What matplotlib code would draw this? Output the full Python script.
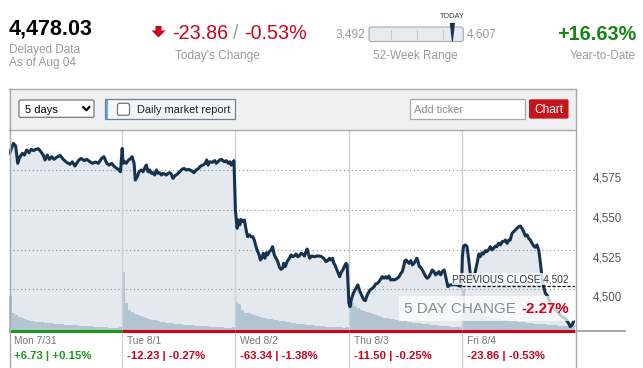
import numpy as np
import matplotlib.pyplot as plt
from matplotlib.patches import Rectangle, FancyBboxPatch, Polygon
from matplotlib.lines import Line2D
import matplotlib.transforms as mtrans

plt.rcParams['font.family'] = ['Liberation Sans', 'DejaVu Sans']

# ---------------- values ----------------
last_price = 4478.03
todays_change = -23.86
todays_pct = -0.53
ytd_pct = 16.63
week52_low = 3492
week52_high = 4607
prev_close = 4502
five_day_pct = -2.27
y_ticks = [4500, 4525, 4550, 4575]

day_names = ['Mon 7/31', 'Tue 8/1', 'Wed 8/2', 'Thu 8/3', 'Fri 8/4']
day_chg = [6.73, -12.23, -63.34, -11.50, -23.86]
day_pct = [0.15, -0.27, -1.38, -0.25, -0.53]

# minutes after the open (390 min session) and index level
mon_min = [2, 15, 23, 30, 38, 46, 53, 61, 69, 76, 84, 92, 101, 110, 118, 124, 132, 139, 147, 155, 164, 176,
           187, 199, 210, 218, 227, 239, 248, 260, 268, 279, 287, 299, 308, 319, 327, 337, 345, 354, 363, 371, 379, 384]
mon_px = [4585.7, 4592.0, 4590.3, 4579.4, 4583.6, 4585.7, 4584.6, 4587.8, 4586.1, 4588.2, 4587.4, 4588.2, 4588.6,
          4586.7, 4584.6, 4581.5, 4584.6, 4581.9, 4583.6, 4581.9, 4583.2, 4584.4, 4581.9, 4580.0, 4578.8, 4580.4,
          4577.7, 4581.1, 4582.5, 4581.1, 4581.9, 4580.4, 4579.4, 4580.2, 4579.4, 4582.5, 4583.6, 4579.4, 4578.3,
          4579.4, 4577.3, 4576.3, 4575.2, 4574.1]
tue_min = [0, 3, 9, 14, 20, 29, 34, 41, 45, 52, 58, 66, 72, 77, 83, 89, 95, 100, 106, 112, 118, 123, 129, 135, 141,
           146, 152, 158, 164, 169, 175, 181, 190, 198, 206, 213, 221, 229, 238, 247, 255, 263, 270, 278, 286, 291,
           296, 301, 309, 319, 324, 330, 336, 342, 347, 353, 359, 365, 371, 376, 381, 385]
tue_px = [4588.8, 4579.4, 4580.4, 4579.4, 4581.1, 4582.5, 4583.6, 4579.4, 4568.9, 4571.0, 4574.1, 4575.2, 4574.1,
          4576.2, 4578.3, 4574.1, 4575.2, 4573.1, 4573.5, 4572.0, 4575.2, 4573.1, 4573.5, 4572.0, 4573.1, 4572.7,
          4572.0, 4573.1, 4573.5, 4572.7, 4569.9, 4571.4, 4572.7, 4574.1, 4575.6, 4576.2, 4575.2, 4575.6, 4574.8,
          4573.5, 4575.2, 4576.2, 4577.7, 4578.3, 4579.4, 4581.5, 4578.3, 4580.4, 4580.0, 4581.1, 4579.4, 4580.4,
          4581.5, 4581.9, 4581.1, 4580.4, 4581.1, 4579.4, 4580.4, 4578.3, 4579.8, 4581.1]
wed_min = [0, 2, 6, 10, 15, 19, 25, 31, 37, 42, 48, 54, 60, 65, 71, 77, 82, 86, 91, 96, 102, 107, 111, 117, 123, 128,
           134, 140, 146, 151, 157, 163, 166, 172, 178, 186, 192, 197, 203, 209, 215, 220, 226, 232, 238, 243, 247,
           251, 256, 263, 272, 281, 289, 297, 304, 312, 318, 324, 329, 335, 339, 343, 350, 355, 359, 364, 370, 375,
           381, 385]
wed_px = [4550.0, 4545.8, 4538.5, 4543.7, 4540.6, 4544.1, 4542.7, 4543.7, 4537.4, 4533.2, 4534.3, 4533.2, 4533.2,
          4531.1, 4526.9, 4523.8, 4521.7, 4518.5, 4519.6, 4522.7, 4519.6, 4523.1, 4521.7, 4523.8, 4524.8, 4526.9,
          4521.7, 4519.6, 4517.5, 4514.3, 4512.6, 4513.3, 4516.4, 4514.3, 4517.5, 4519.6, 4521.7, 4520.6, 4521.0,
          4522.3, 4520.6, 4521.0, 4522.7, 4522.3, 4521.0, 4523.8, 4525.4, 4522.7, 4519.6, 4521.0, 4520.6, 4521.0,
          4521.0, 4520.6, 4519.6, 4517.5, 4518.1, 4519.6, 4518.5, 4519.6, 4516.4, 4515.4, 4512.2, 4510.1, 4508.0,
          4510.5, 4512.2, 4514.3, 4516.4, 4515.4]
thu_min = [1, 5, 9, 16, 22, 28, 32, 37, 42, 47, 53, 58, 62, 67, 74, 82, 88, 93, 99, 105, 110, 116, 122, 128, 133,
           139, 145, 151, 156, 162, 168, 174, 179, 185, 191, 194, 199, 202, 208, 214, 220, 225, 231, 235, 239, 244,
           248, 254, 260, 266, 271, 277, 283, 288, 294, 300, 306, 311, 317, 323, 329, 332, 338, 342, 349, 370, 385]
thu_px = [4491.2, 4489.1, 4493.3, 4497.5, 4499.6, 4501.7, 4502.8, 4499.6, 4497.5, 4495.4, 4493.3, 4492.9, 4495.4,
          4497.5, 4499.6, 4500.7, 4501.7, 4503.4, 4503.8, 4504.9, 4506.3, 4508.0, 4507.0, 4508.0, 4507.0, 4508.4,
          4505.9, 4506.3, 4505.9, 4506.3, 4507.0, 4508.0, 4509.7, 4511.2, 4515.4, 4518.1, 4518.5, 4517.5, 4516.4,
          4518.1, 4515.4, 4516.4, 4518.1, 4519.6, 4517.5, 4514.3, 4513.9, 4512.2, 4510.1, 4508.0, 4507.0, 4508.0,
          4510.1, 4512.2, 4511.2, 4509.1, 4510.1, 4511.2, 4509.1, 4511.2, 4512.2, 4510.1, 4504.9, 4501.7, 4502.8,
          4503.0, 4502.0]
fri_min = [0, 2, 6, 12, 18, 24, 29, 35, 43, 50, 55, 59, 64, 70, 75, 81, 87, 93, 98, 104, 110, 116, 121, 127, 133,
           139, 144, 150, 156, 162, 167, 173, 179, 184, 190, 196, 202, 207, 213, 219, 225, 230, 236, 242, 248, 253,
           259, 265, 271, 276, 282, 288, 293, 299, 305, 311, 317, 322, 328, 334, 339, 345, 351, 357, 362, 368, 374,
           380, 385]
fri_px = [4508.0, 4520.6, 4527.3, 4528.0, 4526.9, 4518.5, 4510.1, 4505.9, 4508.0, 4514.3, 4518.5, 4522.3, 4520.6,
          4523.1, 4522.3, 4524.4, 4523.8, 4525.2, 4526.9, 4524.8, 4525.9, 4527.3, 4526.9, 4529.0, 4528.0, 4530.1,
          4530.1, 4531.1, 4529.0, 4531.1, 4531.1, 4535.3, 4536.4, 4537.4, 4538.5, 4539.5, 4539.9, 4538.5, 4536.4,
          4533.6, 4534.3, 4532.2, 4531.1, 4529.0, 4527.3, 4526.5, 4528.0, 4524.8, 4516.4, 4508.0, 4501.7, 4497.5,
          4496.5, 4494.4, 4491.2, 4489.1, 4488.1, 4487.5, 4486.0, 4485.4, 4483.9, 4482.8, 4482.4, 4481.2, 4480.3,
          4478.6, 4476.5, 4477.6, 4479.7]

# volume per 10-minute bucket (relative units)
mon_vol = [34, 17, 15, 13, 12, 11, 10, 9, 9, 8, 8, 8, 7, 7, 7, 6, 6, 6, 6, 5, 5, 5, 5, 5, 4, 4, 4, 4, 4, 3,
           3, 3, 3, 3, 2, 2, 2, 2, 3]
tue_vol = [58, 27, 20, 18, 16, 15, 14, 13, 12, 11, 10, 10, 9, 8, 8, 7, 7, 7, 6, 6, 6, 5, 5, 5, 5, 4, 4, 4, 4, 4,
           3, 3, 3, 3, 3, 2, 2, 2, 3]
wed_vol = [28, 26, 20, 17, 17, 16, 15, 14, 13, 12, 12, 11, 11, 10, 10, 9, 9, 8, 8, 7, 7, 6, 6, 6, 5, 5, 5, 4, 4, 4,
           4, 3, 3, 3, 3, 3, 3, 2, 3]
thu_vol = [31, 27, 24, 22, 20, 19, 18, 17, 16, 15, 14, 13, 12, 12, 11, 11, 10, 10, 9, 9, 8, 8, 7, 7, 7, 6, 6, 6, 5, 5,
           5, 4, 4, 4, 4, 3, 3, 3, 3]
fri_vol = [40, 26, 22, 20, 18, 17, 16, 15, 14, 13, 12, 12, 11, 11, 10, 10, 9, 9, 9, 8, 8, 8, 7, 7, 7, 6, 6, 6, 6, 5,
           5, 5, 5, 4, 4, 4, 4, 4, 5]

# ----------------------------------------------------------
W, H = 643, 368
RED = '#d0021b'
GREEN = '#1a9a1a'
NAVY = '#15334e'

mins = [mon_min, tue_min, wed_min, thu_min, fri_min]
pxs = [mon_px, tue_px, wed_px, thu_px, fri_px]
vols = [mon_vol, tue_vol, wed_vol, thu_vol, fri_vol]

x = np.concatenate([d + np.array(m) / 390.0 for d, m in enumerate(mins)])
price = np.concatenate([np.array(p) for p in pxs])
vol = np.concatenate([np.array(v) for v in vols])
xv = np.concatenate([d + np.arange(len(v)) / len(v) for d, v in enumerate(vols)])
ylo, yhi = 4474.4, 4600.4

fig = plt.figure(figsize=(W / 100, H / 100), dpi=100)
fig.patch.set_facecolor('white')

# background ui layer in pixel coords
ui = fig.add_axes([0, 0, 1, 1], zorder=0)
ui.set_xlim(0, W)
ui.set_ylim(H, 0)
ui.axis('off')

pos = [9 / W, 1 - 330 / H, 566 / W, 200 / H]
axf = fig.add_axes(pos, zorder=1)
axv = fig.add_axes(pos, zorder=2)
ax = fig.add_axes(pos, zorder=3)
for a in (axf, axv, ax):
    a.set_xlim(0, 5)
axf.set_ylim(ylo, yhi)
ax.set_ylim(ylo, yhi)
axv.set_ylim(0, 200)
axf.axis('off')
axv.axis('off')
axf.patch.set_visible(True)
ax.patch.set_visible(False)
for s in ax.spines.values():
    s.set_visible(False)
ax.set_xticks([])
ax.set_yticks([])

# fill under price, volume, price line
axf.fill_between(x, price, ylo, color='#e4e9ef', lw=0)
axv.bar(xv, vol, width=1 / 39, align='edge', color='#b4c5d2', lw=0)
ax.plot(x, price, color=NAVY, lw=2.2, solid_joinstyle='round', zorder=2)

for v in y_ticks:
    ax.axhline(v, color='#8a8a8a', lw=0.8, ls=(0, (1, 2.5)), zorder=0.5)
    ax.text(1.032, v - 1.5, f'{v:,}', transform=ax.get_yaxis_transform(), ha='left', va='top',
            fontsize=8.3, color='#555555')

for d in range(1, 5):
    ax.plot([d, d], [-0.19, 1], transform=ax.get_xaxis_transform(), color='#ccd2d8', lw=1,
            clip_on=False, zorder=0.6)

# bottom coloured bar + day summaries
for d in range(5):
    col = GREEN if day_chg[d] > 0 else RED
    ax.plot([d, d + 1], [-0.004, -0.004], transform=ax.get_xaxis_transform(), color=col, lw=2.2,
            clip_on=False, zorder=6, solid_capstyle='butt')
    ax.text(d + 0.045, -0.07, day_names[d], transform=ax.get_xaxis_transform(), fontsize=7.3,
            color='#777777', va='baseline')
    ax.text(d + 0.045, -0.147, f'{day_chg[d]:+.2f} | {day_pct[d]:+.2f}%', transform=ax.get_xaxis_transform(),
            fontsize=8.2, color=col, fontweight='bold', va='baseline')

# previous close
ax.plot([4, 5], [prev_close, prev_close], color='black', lw=0.9, ls=(0, (2.5, 1.5)), zorder=3)
ax.add_patch(Rectangle(((451.7 - 9) / 566, (330 - 284.5) / 200), (574 - 451.7) / 566, 12 / 200,
                       transform=ax.transAxes, fc='white', alpha=0.8, lw=0, zorder=3))
ax.text((568.5 - 9) / 566, 282.7, f'PREVIOUS CLOSE {prev_close:,}', fontsize=7.2, color='#333333',
        ha='right', va='baseline', zorder=4,
        transform=mtrans.blended_transform_factory(ax.transAxes, ui.transData))

# 5 day change box
blend = mtrans.blended_transform_factory(ax.transAxes, ui.transData)
ax.add_patch(Rectangle(((399 - 9) / 566, (330 - 320.7) / 200), (573.5 - 399) / 566, 25 / 200,
                       transform=ax.transAxes, fc='white', alpha=0.75, lw=0, zorder=3))
ax.text((404 - 9) / 566, 312.7, '5 DAY CHANGE', transform=blend, fontsize=11, color='#8a8a8a',
        va='baseline', zorder=4)
ax.text((569 - 9) / 566, 312.7, f'{five_day_pct:.2f}%', transform=blend, fontsize=10.8, color=RED,
        fontweight='bold', ha='right', va='baseline', zorder=4)

# ---------------- header ----------------
ui.text(9, 35, f'{last_price:,.2f}', fontsize=15.5, fontweight='bold', color='black', va='baseline')
ui.text(9, 52.5, 'Delayed Data', fontsize=8.5, color='#9a9a9a', va='baseline')
ui.text(9, 66, 'As of Aug 04', fontsize=8.5, color='#9a9a9a', va='baseline')

ui.add_patch(Polygon([[155.5, 26], [161.5, 26], [161.5, 30.5], [165.5, 30.5], [158.5, 37.5], [151.5, 30.5],
                      [155.5, 30.5]], closed=True, fc=RED, ec='none'))
ui.text(172, 39, f'{todays_change:.2f}', fontsize=14.2, color=RED, va='baseline')
ui.text(233, 39, '/', fontsize=14.2, color='#999999', va='baseline')
ui.text(306.5, 39, f'{todays_pct:.2f}%', fontsize=14.2, color=RED, va='baseline', ha='right')
ui.text(175, 59, "Today's Change", fontsize=8.6, color='#9a9a9a', va='baseline')

# 52 week range
ui.text(365, 37.5, f'{week52_low:,}', fontsize=8.6, color='#9a9a9a', va='baseline', ha='right')
ui.text(467, 37.5, f'{week52_high:,}', fontsize=8.6, color='#9a9a9a', va='baseline')
ui.add_patch(FancyBboxPatch((369, 27), 94.3, 14.5, boxstyle='round,pad=0,rounding_size=2',
                            fc='#e6ebf2', ec='#aaaaaa', lw=0.8))
for tx in (390.7, 416.7, 443.3):
    ui.plot([tx, tx], [30, 38.5], color='#c4c9cf', lw=0.8)
mx = 369 + (last_price - week52_low) / (week52_high - week52_low) * 94.3
ui.add_patch(Polygon([[mx - 2.6, 23], [mx + 2.6, 23], [mx + 0.5, 41.5], [mx - 0.5, 41.5]], closed=True,
                     fc=NAVY, ec='none'))
ui.text(mx, 18.3, 'TODAY', fontsize=5.3, color='#333333', va='baseline', ha='center')
ui.text(373, 59, '52-Week Range', fontsize=8.5, color='#9a9a9a', va='baseline')

ui.text(636, 39.5, f'{ytd_pct:+.2f}%', fontsize=14.3, fontweight='bold', color='#118811', va='baseline',
        ha='right')
ui.text(636, 59, 'Year-to-Date', fontsize=8.5, color='#9a9a9a', va='baseline', ha='right')

# ---------------- toolbar ----------------
ui.add_patch(Rectangle((9, 89), 567, 41, fc='#f0f0f0', ec='none'))
ui.add_patch(FancyBboxPatch((19, 100), 75, 17.3, boxstyle='round,pad=0,rounding_size=1.5',
                            fc='white', ec='#767676', lw=0.9))
ui.text(25, 113.3, '5 days', fontsize=8, color='black', va='baseline')
ui.plot([82.5, 86.3, 90.1], [106.3, 110.3, 106.3], color='black', lw=1.6, solid_capstyle='butt')

ui.add_patch(Rectangle((105, 99.3), 130, 20, fc='#f3f5f8', ec='#6f819a', lw=0.9))
ui.add_patch(Rectangle((105.5, 99.8), 2.8, 19, fc='#6aa5d3', ec='none'))
ui.add_patch(FancyBboxPatch((117.5, 103.3), 12, 12, boxstyle='round,pad=0,rounding_size=2',
                            fc='white', ec='#767676', lw=0.9))
ui.text(137, 113, 'Daily market report', fontsize=7.9, color='#222222', va='baseline')

ui.add_patch(Rectangle((410, 99.3), 115, 19.3, fc='white', ec='#a9a9a9', lw=0.9))
ui.text(414, 113, 'Add ticker', fontsize=7.9, color='#8a8a8a', va='baseline')
ui.add_patch(FancyBboxPatch((529, 99.3), 39.5, 19.3, boxstyle='round,pad=0,rounding_size=1.5',
                            fc='#c4161c', ec='none'))
ui.text(548.7, 113, 'Chart', fontsize=8.6, color='white', va='baseline', ha='center')


# ---------------- frame lines ----------------
def fline(xs, ys, color, lw=1.0):
    fig.add_artist(Line2D([v / W for v in xs], [1 - v / H for v in ys], color=color, lw=lw, zorder=10))


fline([9, 576], [89, 89], '#a8a8a8')
fline([9, 576], [130.3, 130.3], '#a8a8a8')
fline([9.5, 9.5], [89, 368], '#a8a8a8')
fline([575.5, 575.5], [89, 368], '#a8a8a8')
fline([576, 625], [330.8, 330.8], '#a8a8a8', lw=1.4)

fig.savefig('out.png', dpi=100)
